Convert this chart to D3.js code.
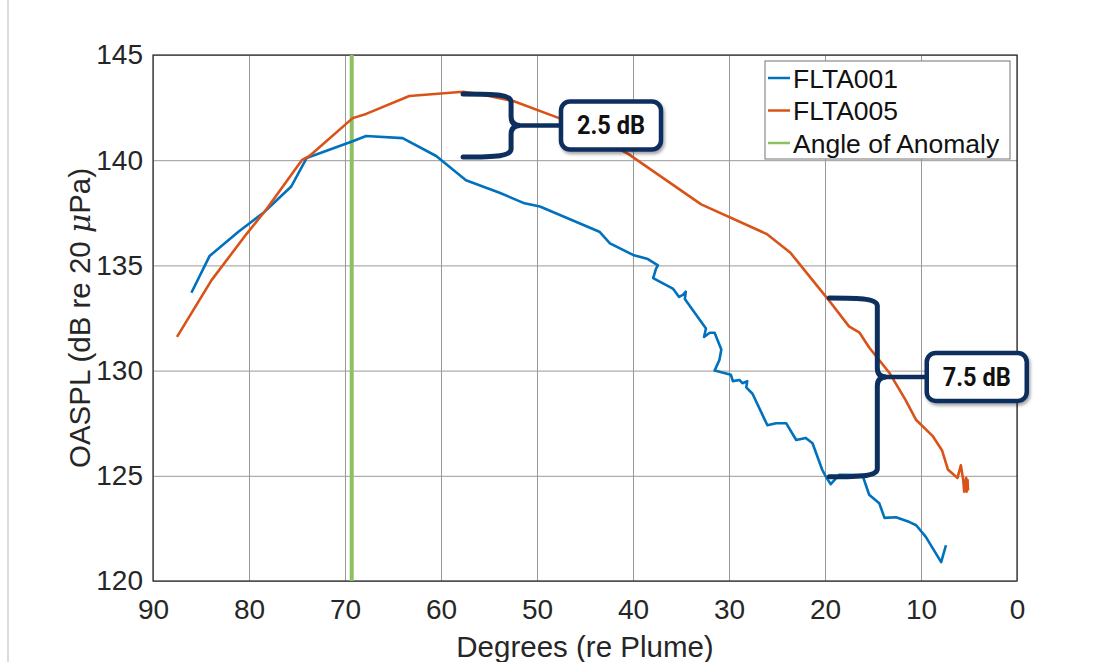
<!DOCTYPE html>
<html>
<head>
<meta charset="utf-8">
<script src="https://cdn.jsdelivr.net/npm/d3@7"></script>
<style>
body { margin: 0; background: #fff; }
svg { display: block; font-family: "Liberation Sans", Arial, Helvetica, sans-serif; }
</style>
</head>
<body>
<svg></svg>
<script>
var blue = "#0072BD", orange = "#D95319", green = "#8cc063", navy = "#0c2f5e", ink = "#262626";

var xTicks = [90, 80, 70, 60, 50, 40, 30, 20, 10, 0];
var yTicks = [120, 125, 130, 135, 140, 145];

var flta001Deg = [86.0, 84.1, 81.1, 78.5, 75.6, 74.0, 69.2, 67.8, 64.0, 60.5, 57.4, 53.9, 51.3, 49.7,
    43.5, 42.4, 40.0, 38.45, 37.4, 37.6, 37.9, 35.85, 35.2, 34.8, 34.5, 34.6, 32.4, 32.6, 32.0, 31.5,
    30.8, 31.0, 31.5, 29.8, 29.6, 28.9, 28.6, 28.1, 28.2, 27.55, 26.0, 25.1, 24.05, 23.0, 22.0, 21.3,
    20.3, 19.9, 19.4, 18.5, 16.1, 15.4, 14.35, 13.8, 12.6, 11.2, 10.5, 9.5, 7.9, 7.4];
var flta001Db = [133.7, 135.45, 136.6, 137.5, 138.75, 140.1, 140.9, 141.15, 141.05, 140.2, 139.05, 138.45, 137.95, 137.8,
    136.6, 136.05, 135.5, 135.3, 135.0, 134.85, 134.4, 133.9, 133.5, 133.6, 133.75, 133.4, 132.0, 131.6, 131.8, 131.8,
    131.0, 130.5, 130.0, 129.8, 129.5, 129.55, 129.4, 129.5, 129.2, 128.9, 127.4, 127.5, 127.5, 126.7, 126.8, 126.55,
    125.3, 124.95, 124.6, 125.05, 125.04, 124.1, 123.7, 123.0, 123.03, 122.8, 122.65, 122.1, 120.9, 121.7];

var flta005Deg = [87.5, 83.9, 80.25, 78.3, 74.5, 73.7, 69.2, 67.8, 63.3, 57.7, 56.0, 52.4, 47.7, 40.5,
    32.9, 26.1, 23.6, 21.3, 19.7, 17.5, 16.4, 15.4, 13.3, 11.6, 10.5, 8.8, 7.8, 7.2, 6.2, 5.85,
    5.6, 5.5, 5.3, 5.25, 5.15, 5.1];
var flta005Db = [131.6, 134.3, 136.5, 137.6, 140.0, 140.2, 142.0, 142.2, 143.05, 143.25, 143.15, 142.8, 142.0, 140.3,
    137.9, 136.5, 135.6, 134.3, 133.4, 132.1, 131.8, 131.1, 129.9, 128.6, 127.65, 126.9, 126.2, 125.3, 124.9, 125.5,
    124.8, 124.25, 124.9, 124.25, 124.8, 124.3];

var anomalyDeg = 69.3;
var legendNames = ["FLTA001", "FLTA005", "Angle of Anomaly"];
var legendColors = [blue, orange, green];

// brace annotations (degrees / dB)
var braceLabels = ["2.5 dB", "7.5 dB"];
var braceX0 = [57.7, 19.55];
var braceSpine = [52.7, 14.55];
var braceTop = [143.15, 133.45];
var braceBot = [140.15, 124.95];
var braceMid = [141.65, 129.7];
var boxLeft = [47.5, 9.4];

var svgWidth = 1112, svgHeight = 662;
var margin = {left: 153, top: 55, right: 95, bottom: 81};
var w = svgWidth - margin.left - margin.right, h = svgHeight - margin.top - margin.bottom;

var svg = d3.select("svg").attr("width", svgWidth).attr("height", svgHeight);

var defs = svg.append("defs");
var shadow = defs.append("filter").attr("id", "shadow").attr("x", "-20%").attr("y", "-20%")
    .attr("width", "150%").attr("height", "160%");
shadow.append("feDropShadow").attr("dx", 1.5).attr("dy", 2.5).attr("stdDeviation", 1.5)
    .attr("flood-color", "#000").attr("flood-opacity", 0.35);

// page edge line on the left
svg.append("line").attr("x1", 8).attr("x2", 8).attr("y1", 0).attr("y2", svgHeight)
    .attr("stroke", "#cfcfcf").attr("stroke-width", 1.5);

var xScale = d3.scaleLinear().domain([90, 0]).range([0, w]);
var yScale = d3.scaleLinear().domain([120, 145]).range([h, 0]);

var g = svg.append("g").attr("transform", "translate(" + margin.left + "," + margin.top + ")");

// grid
g.append("g").call(d3.axisBottom(xScale).tickValues(xTicks).tickSize(-h).tickFormat(""))
    .attr("transform", "translate(0," + h + ")")
    .call(function(s) { s.select(".domain").remove(); s.selectAll("line").attr("stroke", "#999"); });
g.append("g").call(d3.axisLeft(yScale).tickValues(yTicks).tickSize(-w).tickFormat(""))
    .call(function(s) { s.select(".domain").remove(); s.selectAll("line").attr("stroke", "#999"); });

// tick labels
var xAxis = g.append("g").attr("transform", "translate(0," + h + ")")
    .call(d3.axisBottom(xScale).tickValues(xTicks).tickSize(0).tickPadding(18).tickFormat(d3.format("d")));
var yAxis = g.append("g")
    .call(d3.axisLeft(yScale).tickValues(yTicks).tickSize(0).tickPadding(10).tickFormat(d3.format("d")));
[xAxis, yAxis].forEach(function(a) {
    a.select(".domain").remove();
    a.selectAll("text").attr("font-size", 28).attr("fill", ink).attr("font-family", null);
});

// box
g.append("rect").attr("width", w).attr("height", h).attr("fill", "none")
    .attr("stroke", ink).attr("stroke-width", 1.2);

// anomaly line
g.append("line").attr("x1", xScale(anomalyDeg)).attr("x2", xScale(anomalyDeg))
    .attr("y1", yScale(120)).attr("y2", yScale(145))
    .attr("stroke", green).attr("stroke-width", 4);

var line = d3.line().x(function(d) { return xScale(d[0]); }).y(function(d) { return yScale(d[1]); });
g.append("path").datum(d3.zip(flta001Deg, flta001Db)).attr("d", line)
    .attr("fill", "none").attr("stroke", blue).attr("stroke-width", 2.6).attr("stroke-linejoin", "round");
g.append("path").datum(d3.zip(flta005Deg, flta005Db)).attr("d", line)
    .attr("fill", "none").attr("stroke", orange).attr("stroke-width", 2.6).attr("stroke-linejoin", "round");

// legend
var lg = svg.append("g").attr("transform", "translate(765,61)");
lg.append("rect").attr("width", 245).attr("height", 98).attr("fill", "#fff")
    .attr("stroke", "#8a8a8a").attr("stroke-width", 1.2);
legendNames.forEach(function(name, i) {
    var y = 17 + i * 32.5;
    lg.append("line").attr("x1", 3).attr("x2", 25).attr("y1", y).attr("y2", y)
        .attr("stroke", legendColors[i]).attr("stroke-width", 2.5);
    lg.append("text").attr("x", 28).attr("y", y).attr("dy", "0.36em")
        .attr("font-size", 26.5).attr("fill", "#111").text(name);
});

// braces with labels
function bracePath(x0, xv, yt, yb, ym) {
    var r = 8, t = 9;
    return "M" + x0 + "," + yt +
        " C" + (xv - 14) + "," + yt + " " + xv + "," + (yt + 1) + " " + xv + "," + (yt + r) +
        " L" + xv + "," + (ym - t) +
        " Q" + xv + "," + ym + " " + (xv + t) + "," + ym +
        " Q" + xv + "," + ym + " " + xv + "," + (ym + t) +
        " L" + xv + "," + (yb - r) +
        " C" + xv + "," + (yb - 1) + " " + (xv - 14) + "," + yb + " " + x0 + "," + yb;
}

braceLabels.forEach(function(label, i) {
    var xv = xScale(braceSpine[i]), ym = yScale(braceMid[i]), bx = xScale(boxLeft[i]);
    g.append("path").attr("d", bracePath(xScale(braceX0[i]), xv, yScale(braceTop[i]), yScale(braceBot[i]), ym))
        .attr("fill", "none").attr("stroke", navy).attr("stroke-width", 5).attr("stroke-linecap", "round");
    g.append("line").attr("x1", xv + 8).attr("x2", bx).attr("y1", ym).attr("y2", ym)
        .attr("stroke", navy).attr("stroke-width", 4.5);
    var bw = 100, bh = 48;
    g.append("rect").attr("x", bx).attr("y", ym - bh / 2).attr("width", bw).attr("height", bh)
        .attr("rx", 9).attr("fill", "#fff").attr("stroke", navy).attr("stroke-width", 4.5)
        .attr("filter", "url(#shadow)");
    g.append("text").attr("x", bx + bw / 2).attr("y", ym).attr("dy", "0.36em")
        .attr("text-anchor", "middle").attr("font-size", 25).attr("font-weight", "bold")
        .attr("font-family", "Roboto, 'DejaVu Sans Condensed', sans-serif")
        .attr("textLength", 68).attr("lengthAdjust", "spacingAndGlyphs")
        .attr("fill", "#111").text(label);
});

// axis titles
svg.append("text").attr("x", margin.left + w / 2).attr("y", 657).attr("text-anchor", "middle")
    .attr("font-size", 29.5).attr("fill", ink).text("Degrees (re Plume)");
var yt = svg.append("text").attr("transform", "translate(90," + (margin.top + h / 2) + ") rotate(-90)")
    .attr("text-anchor", "middle").attr("font-size", 29.5).attr("fill", ink);
yt.append("tspan").text("OASPL (dB re 20 ");
yt.append("tspan").attr("font-style", "italic").attr("font-family", "'DejaVu Serif', 'Liberation Serif', serif").text("\u03bc");
yt.append("tspan").text("Pa)");
</script>
</body>
</html>
